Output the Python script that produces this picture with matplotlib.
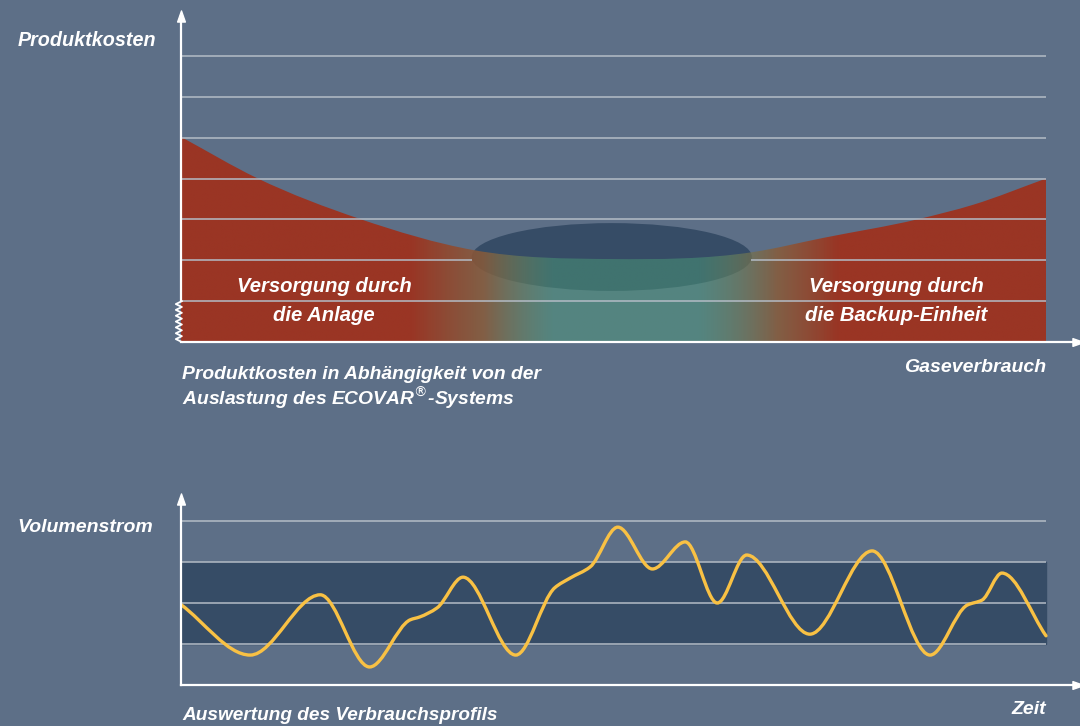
import numpy as np
import matplotlib
matplotlib.use('Agg')
import matplotlib.pyplot as plt
from matplotlib.path import Path
from matplotlib.patches import PathPatch, Ellipse

plt.rcParams['font.family'] = ['Liberation Sans', 'DejaVu Sans']

# upper chart: product cost over gas consumption
cost_x = [0, 0.88, 2.07, 3.38, 4.98, 6.61, 7.43, 8.51, 9.16, 10.0]
cost_y = [5.02, 4.01, 3.01, 2.25, 2.03, 2.2, 2.55, 3.0, 3.36, 4.0]
cost_grid = [1, 2, 3, 4, 5, 6, 7]
sweet_center = (4.98, 2.08)
sweet_size = (3.24, 1.66)

# lower chart: volume flow over time
flow_x = [0, 0.80, 1.61, 2.18, 2.65, 2.76, 2.96, 3.26, 3.87, 4.32, 4.5, 4.73,
          5.05, 5.45, 5.83, 6.2, 6.54, 7.27, 7.99, 8.66, 9.09, 9.26, 9.49, 10.0]
flow_y = [1.96, 0.73, 2.2, 0.44, 1.59, 1.66, 1.88, 2.63, 0.73, 2.37, 2.61, 2.88,
          3.85, 2.83, 3.49, 2.0, 3.17, 1.24, 3.27, 0.73, 1.95, 2.07, 2.73, 1.2]
flow_grid = [1, 2, 3, 4]
flow_band = (1, 3)

BG = '#5d6f87'
DARK = '#364c66'
GRID = '#b4bcc6'
RED = (154, 53, 36)
BROWN = (137, 92, 58)
TEAL = (76, 155, 121)
YELLOW = '#f9c144'
W, H = 1080, 726


def smooth_path(xs, ys, keep_shape=True):
    # cubic through the read points, as bezier segments
    x = np.asarray(xs, float)
    y = np.asarray(ys, float)
    h = np.diff(x)
    d = np.diff(y) / h
    m = np.zeros_like(x)
    m[0], m[-1] = d[0], d[-1]
    for k in range(1, len(x) - 1):
        if not keep_shape:
            m[k] = (h[k] * d[k - 1] + h[k - 1] * d[k]) / (h[k - 1] + h[k])
        elif d[k - 1] * d[k] > 0:
            w1 = 2 * h[k] + h[k - 1]
            w2 = h[k] + 2 * h[k - 1]
            m[k] = (w1 + w2) / (w1 / d[k - 1] + w2 / d[k])
    verts = [(x[0], y[0])]
    codes = [Path.MOVETO]
    for k in range(len(x) - 1):
        verts += [(x[k] + h[k] / 3, y[k] + m[k] * h[k] / 3),
                  (x[k + 1] - h[k] / 3, y[k + 1] - m[k + 1] * h[k] / 3),
                  (x[k + 1], y[k + 1])]
        codes += [Path.CURVE4] * 3
    return verts, codes


def arrow_marker(direction):
    if direction == 'up':
        v = [(-0.7, -1), (0.7, -1), (0, 1), (-0.7, -1)]
    else:
        v = [(-1, -0.7), (-1, 0.7), (1, 0), (-1, -0.7)]
    return Path(v, [Path.MOVETO, Path.LINETO, Path.LINETO, Path.CLOSEPOLY])


def px(x, y):
    return x / W, 1 - y / H


fig = plt.figure(figsize=(W / 100, H / 100), dpi=100)
fig.patch.set_facecolor(BG)

x_unit = 86.5
x_max = (1078 - 181) / x_unit
ax1 = fig.add_axes([181 / W, (H - 342) / H, (1078 - 181) / W, 326 / H])
ax2 = fig.add_axes([181 / W, (H - 685) / H, (1078 - 181) / W, 186 / H])
ylim1 = 326 / 40.86
ylim2 = 186 / 41.0

for ax, ytop in ((ax1, ylim1), (ax2, ylim2)):
    ax.set_facecolor('none')
    ax.set_xlim(0, x_max)
    ax.set_ylim(0, ytop)
    ax.set_xticks([])
    ax.set_yticks([])
    for s in ('top', 'right'):
        ax.spines[s].set_visible(False)
    for s in ('left', 'bottom'):
        ax.spines[s].set_color('white')
        ax.spines[s].set_linewidth(1.6)
        ax.spines[s].set_zorder(6)
    ax.plot([0], [ytop], marker=arrow_marker('up'), ms=8, color='white',
            clip_on=False, zorder=7)
    ax.plot([x_max], [0], marker=arrow_marker('right'), ms=8, color='white',
            clip_on=False, zorder=7)

# ---- upper chart
x_end = cost_x[-1]
verts, codes = smooth_path(cost_x, cost_y, keep_shape=False)
verts += [(x_end, 0), (cost_x[0], 0), (cost_x[0], 0)]
codes += [Path.LINETO, Path.LINETO, Path.CLOSEPOLY]
area = PathPatch(Path(verts, codes), facecolor='none', edgecolor='none',
                 transform=ax1.transData)
ax1.add_patch(area)

stops_x = [0, 2.65, 3.5, 4.3, 6.0, 6.9, 7.6, 10]
stops_c = [RED + (1,), RED + (1,), BROWN + (0.85,), TEAL + (0.5,),
           TEAL + (0.5,), BROWN + (0.85,), RED + (1,), RED + (1,)]
gx = np.linspace(0, x_end, 800)
grad = np.zeros((1, gx.size, 4))
for c in range(4):
    vals = [s[c] / 255 if c < 3 else s[c] for s in stops_c]
    grad[0, :, c] = np.interp(gx, stops_x, vals)
im = ax1.imshow(grad, extent=(0, x_end, 0, max(cost_y) + 0.5), aspect='auto',
                interpolation='bilinear', zorder=2)
im.set_clip_path(area)
ax1.set_xlim(0, x_max)
ax1.set_ylim(0, ylim1)

ax1.add_patch(Ellipse(sweet_center, sweet_size[0], sweet_size[1],
                      facecolor=DARK, edgecolor='none', zorder=1))

cx, cy = sweet_center
ea, eb = sweet_size[0] / 2, sweet_size[1] / 2
for g in cost_grid:
    if abs(g - cy) < eb:
        hw = ea * np.sqrt(1 - ((g - cy) / eb) ** 2)
        ax1.hlines([g, g], [0, cx + hw], [cx - hw, x_end], color=GRID, lw=1.1, zorder=3)
    else:
        ax1.hlines(g, 0, x_end, color=GRID, lw=1.1, zorder=3)

# broken axis: straight part above the first grid line, zigzag below
ax1.spines['left'].set_bounds(cost_grid[0], ylim1)
zy = np.linspace(0, cost_grid[0], 15)
zx = np.where(np.arange(15) % 2 == 0, 0.01, -0.06)
ax1.plot(zx, zy, color='white', lw=1.3, clip_on=False, zorder=6)

# ---- lower chart
ax2.axhspan(flow_band[0], flow_band[1], xmin=0, xmax=flow_x[-1] / x_max,
            color=DARK, zorder=1)
ax2.hlines(flow_grid, 0, flow_x[-1], color=GRID, lw=1.1, zorder=2)
fv, fc = smooth_path(flow_x, flow_y)
ax2.add_patch(PathPatch(Path(fv, fc), facecolor='none', edgecolor=YELLOW,
                        lw=2.4, capstyle='round', zorder=4))

# ---- texts
tkw = dict(color='white', fontweight='bold', style='italic')
fig.text(*px(18, 40), 'Produktkosten', ha='left', va='center', fontsize=14.2, **tkw)
fig.text(*px(324, 301), 'Versorgung durch\ndie Anlage', ha='center', va='center',
         multialignment='center', linespacing=1.7, fontsize=14.6, **tkw)
fig.text(*px(896, 301), 'Versorgung durch\ndie Backup-Einheit', ha='center',
         va='center', multialignment='center', linespacing=1.7, fontsize=14.6, **tkw)
fig.text(*px(182, 379), 'Produktkosten in Abhängigkeit von der', ha='left',
         va='baseline', fontsize=13.9, **tkw)
fig.text(*px(182, 405), 'Auslastung des ECOVAR$^{\\circledR}$-Systems', ha='left',
         va='baseline', fontsize=13.9, **tkw)
fig.text(*px(1046, 368), 'Gaseverbrauch', ha='right', va='center', fontsize=14.0, **tkw)
fig.text(*px(17, 527), 'Volumenstrom', ha='left', va='center', fontsize=14.0, **tkw)
fig.text(*px(182, 715), 'Auswertung des Verbrauchsprofils', ha='left',
         va='center', fontsize=13.7, **tkw)
fig.text(*px(1046, 710), 'Zeit', ha='right', va='center', fontsize=14.0, **tkw)

fig.savefig('out.png', dpi=100, facecolor=BG)
